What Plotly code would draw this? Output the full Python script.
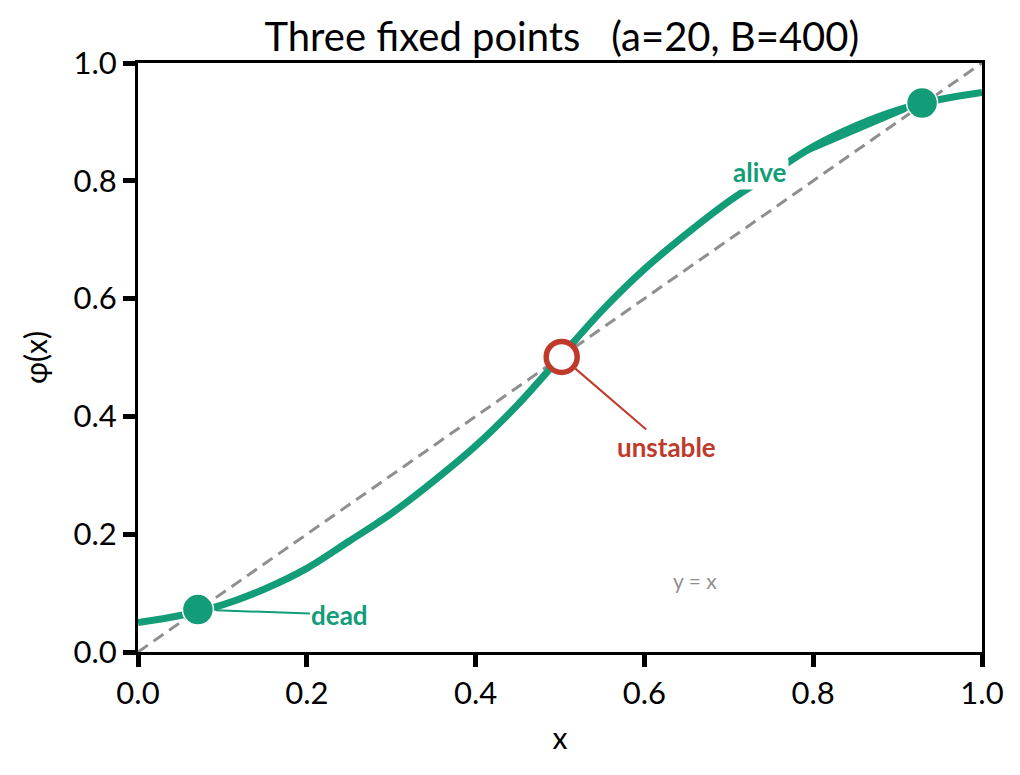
import plotly.graph_objects as go

# phi(x)
x_vals = [0.00, 0.05, 0.10, 0.15, 0.20, 0.25, 0.30, 0.35, 0.40, 0.45, 0.50,
          0.55, 0.60, 0.65, 0.70, 0.75, 0.80, 0.85, 0.90, 0.95, 1.00]
phi_vals = [0.050, 0.062, 0.080, 0.107, 0.142, 0.188, 0.235, 0.290, 0.350, 0.420, 0.500,
            0.580, 0.650, 0.710, 0.765, 0.812, 0.858, 0.893, 0.920, 0.938, 0.950]
diag = [0.0, 1.0]

# fixed points
stable_x = [0.071, 0.929]
stable_y = [0.072, 0.932]
unstable_x = [0.502]
unstable_y = [0.501]

tick_vals = [0.0, 0.2, 0.4, 0.6, 0.8, 1.0]
tick_text = ["0.0", "0.2", "0.4", "0.6", "0.8", "1.0"]

GREEN = "#129c77"
RED = "#c0392b"
GRAY = "#8f8f8f"
FONT = "Lato"

fig = go.Figure()
fig.add_trace(go.Scatter(x=diag, y=diag, mode="lines",
                         line=dict(color=GRAY, width=3, dash="12px,7px"), hoverinfo="skip"))
fig.add_trace(go.Scatter(x=x_vals, y=phi_vals, mode="lines",
                         line=dict(color=GREEN, width=7, shape="spline"), hoverinfo="skip"))
fig.add_trace(go.Scatter(x=stable_x, y=stable_y, mode="markers",
                         marker=dict(size=31, color=GREEN, line=dict(color="white", width=1.5))))
fig.add_trace(go.Scatter(x=unstable_x, y=unstable_y, mode="markers",
                         marker=dict(size=31, color="white", line=dict(color=RED, width=5.5))))

fig.add_annotation(x=stable_x[0], y=stable_y[0], text="<b>dead</b>", ax=142, ay=5,
                   showarrow=True, arrowhead=0, arrowwidth=2, arrowcolor=GREEN, standoff=18,
                   font=dict(family=FONT, size=26, color=GREEN))
fig.add_annotation(x=unstable_x[0], y=unstable_y[0], text="<b>unstable</b>", ax=105, ay=90,
                   showarrow=True, arrowhead=0, arrowwidth=2, arrowcolor=RED, standoff=18,
                   font=dict(family=FONT, size=26, color=RED))
fig.add_annotation(x=stable_x[1], y=stable_y[1], text="<b>alive</b>", ax=-162, ay=69,
                   showarrow=True, arrowhead=0, arrowwidth=3.5, arrowcolor=GREEN, standoff=18,
                   bgcolor="white", borderpad=1,
                   font=dict(family=FONT, size=26, color=GREEN))
fig.add_annotation(x=0.66, y=0.122, text="y = x", showarrow=False,
                   font=dict(family=FONT, size=21, color=GRAY))

axis_common = dict(range=[0, 1], tickvals=tick_vals, ticktext=tick_text,
                   showgrid=False, zeroline=False, showline=True, mirror=True,
                   linecolor="black", linewidth=3, ticks="outside", ticklen=12,
                   tickwidth=5, tickcolor="black",
                   tickfont=dict(family=FONT, size=31, color="black"))

fig.update_layout(
    width=1020, height=775,
    margin=dict(l=130, r=46, t=55, b=131),
    paper_bgcolor="white", plot_bgcolor="white",
    showlegend=False,
    font=dict(family=FONT, color="black"),
    title=dict(text="Three fixed points   (a=20, B=400)", x=0.543, xanchor="center",
               y=0.962, yanchor="middle", font=dict(family=FONT, size=40, color="black")),
    xaxis=dict(axis_common, title=dict(text="x", font=dict(family=FONT, size=30), standoff=18)),
    yaxis=dict(axis_common, title=dict(text="φ(x)", font=dict(family=FONT, size=30), standoff=18)),
)

fig.write_html("out.html")
